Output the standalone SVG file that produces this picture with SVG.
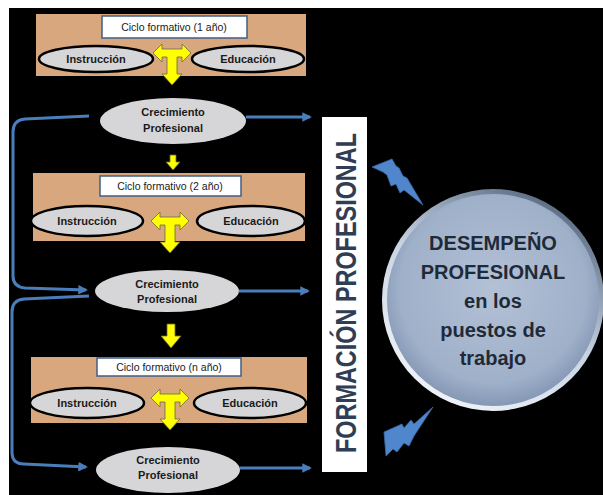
<svg xmlns="http://www.w3.org/2000/svg" width="603" height="495" viewBox="0 0 603 495">
<defs>
<style>
.tan{fill:#d9a77d}
.lbl{fill:#fff;stroke:#3f5f86;stroke-width:1.5}
.oval{fill:#d6d6d8;stroke:#000;stroke-width:2.5}
.grow{fill:#d6d6d8}
.t{font-family:"Liberation Sans",Arial,sans-serif;fill:#1a1a1a;text-anchor:middle}
.b{font-weight:bold;font-size:11px}
.c{font-size:10.5px}
.yel{fill:#ffff00;stroke:#6b6b3a;stroke-width:0.8}
.con{fill:none;stroke:#4a7ebb;stroke-width:3}
.bolt{fill:#4f86cc;stroke:#3a6aa8;stroke-width:0.8}
</style>
<marker id="ah" viewBox="0 0 10 10" refX="8" refY="5" markerWidth="3.2" markerHeight="3.2" orient="auto" markerUnits="strokeWidth">
<path d="M0,0 L10,5 L0,10 Z" fill="#4a7ebb"/>
</marker>
<path id="tarrow" d="M -19,0 L -10,-9 L -10,-4 L 10,-4 L 10,-9 L 19,0 L 10,9 L 10,4 L 5,4 L 5,21 L 10,21 L 0,32 L -10,21 L -5,21 L -5,4 L -10,4 L -10,9 Z"/>
<radialGradient id="cg" cx="0.5" cy="0.45" r="0.55">
<stop offset="0" stop-color="#b3c1d6"/>
<stop offset="0.8" stop-color="#9fb0c9"/>
<stop offset="1" stop-color="#8497b4"/>
</radialGradient>
<linearGradient id="rim" x1="0.8" y1="0" x2="0.2" y2="1">
<stop offset="0" stop-color="#4d6078"/>
<stop offset="0.5" stop-color="#c9d4e3"/>
<stop offset="1" stop-color="#f4f7fb"/>
</linearGradient>
</defs>
<rect x="0" y="0" width="603" height="495" fill="#fff"/>
<rect x="9" y="8" width="594" height="487" fill="#000"/>

<g id="panel1">
<rect class="tan" x="36" y="14" width="270" height="62"/>
<rect class="lbl" x="102" y="16" width="145" height="22"/>
<text class="t c" x="174" y="31">Ciclo formativo (1 año)</text>
<ellipse class="oval" cx="96" cy="59" rx="57" ry="13"/>
<text class="t b" x="96" y="63">Instrucción</text>
<ellipse class="oval" cx="248" cy="59" rx="56" ry="13"/>
<text class="t b" x="248" y="63">Educación</text>
<use href="#tarrow" class="yel" transform="translate(172,53)"/>
</g>

<g id="grow1">
<ellipse class="grow" cx="173" cy="121" rx="73" ry="23"/>
<text class="t b" x="173" y="116">Crecimiento</text>
<text class="t b" x="173" y="132">Profesional</text>
</g>

<g id="panel2">
<rect class="tan" x="33" y="173" width="272" height="68"/>
<rect class="lbl" x="100" y="176" width="141" height="20"/>
<text class="t c" x="170" y="190">Ciclo formativo (2 año)</text>
<ellipse class="oval" cx="87" cy="221" rx="56" ry="15"/>
<text class="t b" x="87" y="225">Instrucción</text>
<ellipse class="oval" cx="251" cy="221" rx="54" ry="15"/>
<text class="t b" x="251" y="225">Educación</text>
<use href="#tarrow" class="yel" transform="translate(170,221)"/>
</g>

<g id="grow2">
<ellipse class="grow" cx="167" cy="291" rx="72" ry="21"/>
<text class="t b" x="167" y="288">Crecimiento</text>
<text class="t b" x="167" y="303">Profesional</text>
</g>

<g id="panel3">
<rect class="tan" x="31" y="357" width="276" height="66"/>
<rect class="lbl" x="97" y="358" width="144" height="18"/>
<text class="t c" x="169" y="371">Ciclo formativo (n año)</text>
<ellipse class="oval" cx="87" cy="403" rx="57" ry="15"/>
<text class="t b" x="87" y="407">Instrucción</text>
<ellipse class="oval" cx="250" cy="403" rx="56" ry="15"/>
<text class="t b" x="250" y="407">Educación</text>
<use href="#tarrow" class="yel" transform="translate(170,398)"/>
</g>

<g id="grow3">
<ellipse class="grow" cx="168" cy="470" rx="72" ry="23"/>
<text class="t b" x="168" y="464">Crecimiento</text>
<text class="t b" x="168" y="479">Profesional</text>
</g>

<g id="formacion">
<rect x="322" y="117" width="45" height="355" fill="#fff"/>
<text x="0" y="0" transform="translate(356,293) rotate(-90)" font-family="'Liberation Sans',Arial,sans-serif" font-weight="bold" font-size="29" fill="#2f3e54" text-anchor="middle" textLength="320" lengthAdjust="spacingAndGlyphs">FORMACIÓN  PROFESIONAL</text>
</g>

<g id="desempeno">
<circle cx="493" cy="300" r="111" fill="url(#rim)"/>
<circle cx="493" cy="300" r="106" fill="url(#cg)"/>
<g font-family="'Liberation Sans',Arial,sans-serif" font-weight="bold" font-size="20" fill="#1f2a38" text-anchor="middle">
<text x="493" y="250">DESEMPEÑO</text>
<text x="493" y="279">PROFESIONAL</text>
<text x="493" y="308">en los</text>
<text x="493" y="337">puestos de</text>
<text x="493" y="365">trabajo</text>
</g>
</g>

<g id="connectors">
<path class="yel" d="M170,155 L176,155 L176,162 L180,162 L173,170 L166,162 L170,162 Z"/>
<path class="yel" d="M167,324 L175,324 L175,336 L181,336 L171,348 L161,336 L167,336 Z"/>
<path class="con" marker-end="url(#ah)" d="M89,116 L25,119 Q13,120 13,132 L13,276 Q13,287 25,288 L86,290"/>
<path class="con" marker-end="url(#ah)" d="M89,296 L24,299 Q12,300 12,312 L12,452 Q12,464 24,464 L86,467"/>
<path class="con" marker-end="url(#ah)" d="M246,117 L310,117"/>
<path class="con" marker-end="url(#ah)" d="M239,291 L308,291"/>
<path class="con" marker-end="url(#ah)" d="M240,468 L310,468"/>
<polygon class="bolt" points="372,167 392,159 396,166 399,168 403,176 407,178 423,205 404,190 400,193 396,184 391,186 387,175 383,172"/>
<polygon class="bolt" points="384,432 402,424 404,428 411,420 414,424 433,407 414,436 409,446 404,443 397,452 393,449 386,456"/>
</g>
</svg>
